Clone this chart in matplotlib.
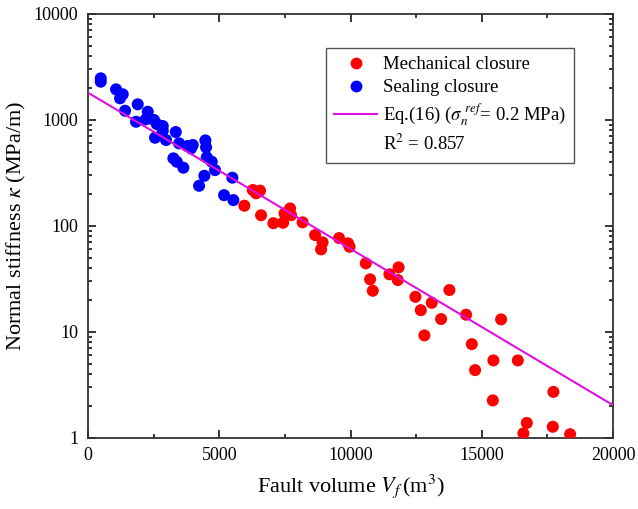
import matplotlib
matplotlib.use('Agg')
import matplotlib.pyplot as plt
from matplotlib.ticker import MultipleLocator, LogLocator, FuncFormatter, NullFormatter
from matplotlib.lines import Line2D

plt.rcParams['font.family'] = ['Liberation Serif', 'DejaVu Serif']
plt.rcParams['mathtext.fontset'] = 'stix'

# Sealing closure points (fault volume m3, stiffness MPa/m)
seal_v = [484, 484, 1067, 1322, 1219, 1410, 1893, 1829, 2274, 2198, 2514, 2617,
          2846, 2846, 2552, 2971, 3341, 3467, 3783, 3989, 3924, 4469, 4495, 3250,
          3379, 3630, 4522, 4712, 4838, 4430, 4229, 5497, 5181, 5535]
seal_k = [2470, 2295, 1945, 1745, 1600, 1221, 1404, 961, 1195, 1013, 998, 915,
          876, 790, 679, 646, 769, 601, 567, 580, 539, 641, 551, 434,
          403, 354, 444, 403, 336, 297, 239, 285, 195, 175]

# Mechanical closure points
mech_v = [5954, 6274, 6552, 6400, 6590, 7059, 7429, 7695, 7486, 7733, 8171, 8648,
          8933, 8876, 9562, 9905, 9962, 10579, 10743, 10846, 11478, 11829, 11798,
          12469, 12674, 13093, 13764, 13448, 12811, 14400, 14617, 14743, 15440,
          15733, 16370, 15417, 17726, 16712, 16583, 17703, 18362]
mech_k = [155, 218, 215, 203, 126, 106, 107, 146, 131, 126, 108, 81.9,
          69.9, 60, 76.7, 68.4, 63.5, 44.3, 31.3, 24.4, 34.9, 40.6, 30.8,
          21.4, 16.0, 18.8, 24.8, 13.2, 9.25, 14.5, 7.65, 4.35, 5.37,
          13.1, 5.37, 2.25, 2.71, 1.38, 1.10, 1.27, 1.08]

# Eq.(16) fit line end points
fit_v = [0, 20000]
fit_k = [1807, 2.03]

fig = plt.figure(figsize=(6.38, 5.09), dpi=100)
ax = fig.add_axes([0.138, 0.140, 0.823, 0.8325])

ax.scatter(mech_v, mech_k, s=75, color='#FF0000', edgecolors='none', zorder=3)
ax.scatter(seal_v, seal_k, s=75, color='#0000FF', edgecolors='none', zorder=3)
ax.plot(fit_v, fit_k, color='#E010E0', lw=1.5, zorder=4)

ax.set_yscale('log')
ax.set_xlim(0, 20000)
ax.set_ylim(1, 10000)

ax.xaxis.set_major_locator(MultipleLocator(5000))
ax.xaxis.set_minor_locator(MultipleLocator(2500))
ax.yaxis.set_major_locator(LogLocator(base=10))
ax.yaxis.set_minor_locator(LogLocator(base=10, subs=range(2, 10)))
ax.yaxis.set_major_formatter(FuncFormatter(lambda v, p: '%g' % v))
ax.yaxis.set_minor_formatter(NullFormatter())

ax.tick_params(which='both', direction='in', top=True, right=True, labelsize=13, width=1.1)
ax.tick_params(which='major', length=6, pad=7)
ax.tick_params(which='minor', length=3)
for sp in ax.spines.values():
    sp.set_linewidth(1.3)
    sp.set_color('#333333')

ax.set_xlabel(r'Fault volume $V_f\,$(m$^3$)', fontsize=16, labelpad=6)
ax.set_ylabel(r'Normal stiffness $\kappa$ (MPa/m)', fontsize=16, labelpad=4)

handles = [
    Line2D([], [], ls='none', marker='o', color='#FF0000', markersize=7.5),
    Line2D([], [], ls='none', marker='o', color='#0000FF', markersize=7.5),
    Line2D([], [], color='#E010E0', lw=1.5),
    Line2D([], [], ls='none'),
]
labels = ['Mechanical closure', 'Sealing closure',
          r'Eq.(16) ($\sigma_n^{\ ref}$= 0.2 MPa)', r'R$^2$ = 0.857']
leg = ax.legend(handles, labels, loc='upper right', bbox_to_anchor=(0.926, 0.92),
                fontsize=13.5, fancybox=False, edgecolor='#555555', framealpha=1,
                handlelength=2.3, borderpad=0.45, labelspacing=0.3, handletextpad=0.3,
                borderaxespad=0)
leg.get_frame().set_linewidth(1.0)

fig.savefig('out.png', dpi=100)
